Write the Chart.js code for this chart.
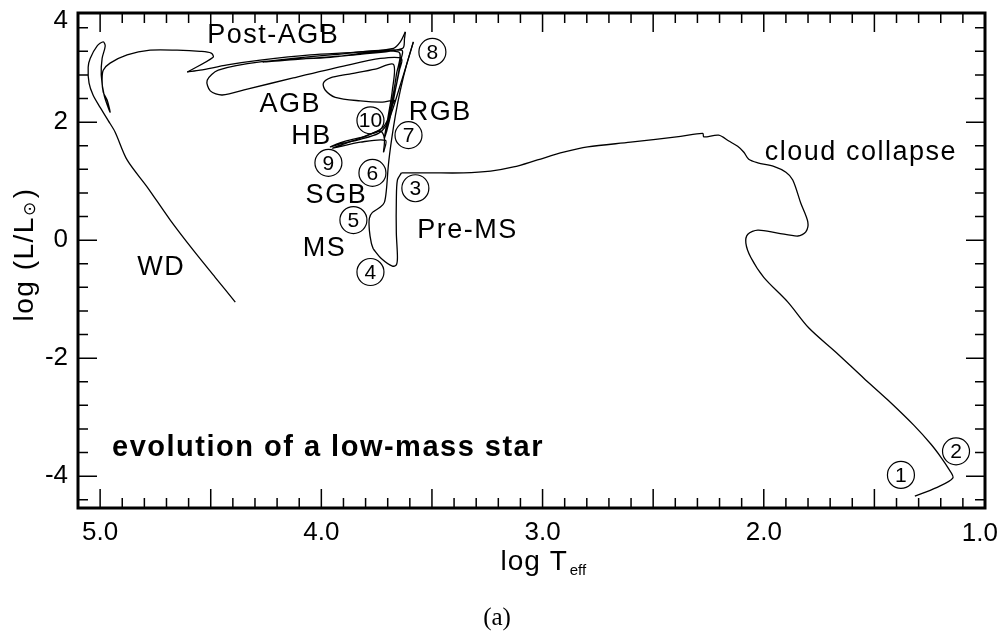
<!DOCTYPE html>
<html><head><meta charset="utf-8">
<script src="https://cdn.jsdelivr.net/npm/chart.js@4.4.1/dist/chart.umd.min.js"></script>
<style>html,body{margin:0;padding:0;background:#fff}#wrap{width:1000px;height:633px}</style>
</head><body><div id="wrap"><canvas id="c" width="1000" height="633"></canvas></div>
<script>
// ---- Evolutionary track, log Teff vs log(L/Lsun) ----
const collapseLogT = [1.317,1.222,1.145,1.167,1.199,1.244,1.321,1.439,1.548,1.674,1.796,1.891,2.000,2.059,2.081,2.072,2.027,1.937,1.846,1.810,1.801,1.833,1.869,1.900,1.955,2.027,2.068,2.090,2.118,2.158,2.204,2.271,2.276,2.376,2.602,2.796,2.905,3.023,3.131,3.235,3.357,3.507,3.638];
const collapseLogL = [-4.34,-4.20,-4.03,-3.86,-3.68,-3.46,-3.14,-2.71,-2.34,-1.90,-1.49,-1.05,-0.63,-0.29,-0.05,0.10,0.17,0.12,0.07,0.14,0.31,0.63,1.02,1.15,1.25,1.31,1.37,1.49,1.59,1.68,1.78,1.75,1.81,1.76,1.66,1.58,1.49,1.36,1.24,1.17,1.14,1.14,1.14];
const preMsLogT = [3.638,3.656,3.661,3.661,3.656,3.661,3.679,3.729,3.765];
const preMsLogL = [1.14,1.02,0.68,0.12,-0.29,-0.42,-0.44,-0.31,-0.15];
const msRgbLogT = [3.765,3.774,3.783,3.783,3.769,3.733,3.715,3.706,3.697,3.683,3.665,3.643,3.615,3.584];
const msRgbLogL = [-0.15,-0.05,0.17,0.37,0.47,0.56,0.64,0.85,1.27,1.69,2.12,2.54,2.97,3.36];
const flashHbLogT = [3.584,3.606,3.643,3.679,3.706,3.742,3.824,3.914,3.959,3.891,3.801,3.733,3.715,3.719];
const flashHbLogL = [3.36,3.08,2.63,2.20,1.95,1.81,1.71,1.63,1.58,1.68,1.76,1.85,1.73,1.49];
const agbLogT = [3.719,3.710,3.824,3.950,3.824,3.724,3.697,3.679,3.670, 3.724,3.824,3.937,3.982,3.991,3.959,3.882,3.756,3.674, 3.679,3.697,3.715, 3.692,3.670,3.647,3.638, 3.733,3.900,4.127,4.335,4.448,4.502,4.516,4.466,4.276,3.959,3.652, 3.661,3.683,3.706, 3.683,3.661,3.643,3.638, 3.959,4.262,4.095,3.824,3.633,3.624,3.620];
const agbLogL = [1.49,1.69,1.66,1.56,1.73,1.90,2.07,2.29,2.37, 2.34,2.36,2.42,2.54,2.66,2.75,2.81,2.90,2.98, 2.54,2.12,1.73, 2.03,2.46,2.88,3.08, 3.08,2.95,2.75,2.56,2.46,2.53,2.71,2.88,3.02,3.10,3.19, 2.80,2.29,1.83, 2.20,2.63,3.02,3.22, 3.14,3.02,3.07,3.15,3.25,3.42,3.53];
const postAgbLogT = [3.620,3.643,3.674,3.824,4.050,4.276,4.425,4.548,4.606];
const postAgbLogL = [3.53,3.36,3.25,3.19,3.14,3.05,2.97,2.88,2.85];
const wdLogT = [4.606,4.489,4.498,4.548,4.652,4.774,4.878,4.955,4.986,4.991,4.986,4.968,4.955,4.982,4.995,4.991,4.977,4.986,5.014,5.045,5.054,5.050,5.032,5.000,4.964,4.932,4.878,4.787,4.683,4.579,4.480,4.389];
const wdLogL = [2.85,3.10,3.17,3.20,3.22,3.22,3.14,3.00,2.88,2.71,2.51,2.37,2.17,2.46,2.80,3.08,3.29,3.36,3.29,3.08,2.93,2.66,2.46,2.25,2.03,1.83,1.36,0.90,0.34,-0.17,-0.63,-1.05];

// ---- axes ----
const xLabelTicks = [5.0,4.0,3.0,2.0];
const xEdgeLabel = 1.0;
const xMajorTicks = [5.0,4.5,4.0,3.5,3.0,2.5,2.0,1.5];
const xMinorTicks = [4.9,4.8,4.7,4.6,4.4,4.3,4.2,4.1,3.9,3.8,3.7,3.6,3.4,3.3,3.2,3.1,2.9,2.8,2.7,2.6,2.4,2.3,2.2,2.1,1.9,1.8,1.7,1.6,1.4,1.3,1.2,1.1];
const yLabelTicks = [-4,-2,0,2];
const yMajorTicks = [-4,-2,0,2];
const yMinorTicks = [-4.4,-3.6,-3.2,-2.8,-2.4,-1.6,-1.2,-0.8,-0.4,0.4,0.8,1.2,1.6,2.4,2.8,3.2,3.6];
const yTopLabel = '4';

// ---- annotations ----
const phaseNames = ['Post-AGB','AGB','HB','SGB','MS','WD','RGB','Pre-MS','cloud collapse'];
const phaseLogT = [4.217,4.14,4.045,3.932,3.986,4.724,3.462,3.339,1.561];
const phaseLogL = [3.47,2.29,1.75,0.76,-0.14,-0.47,2.17,0.17,1.49];
const stageNums = ['1','2','3','4','5','6','7','8','9','10'];
const stageLogT = [1.38,1.131,3.575,3.778,3.855,3.769,3.606,3.498,3.968,3.778];
const stageLogL = [-3.98,-3.58,0.88,-0.54,0.34,1.14,1.78,3.19,1.31,2.03];
const chartNote = 'evolution of a low-mass star';
const noteLogT = 4.946, noteLogL = -3.53;

const FONT = '"Liberation Sans", Arial, Helvetica, sans-serif';
const pts = (t,l) => t.map((v,i)=>({x:v,y:l[i]}));
const ds = (t,l) => ({data:pts(t,l), showLine:true, borderColor:'#000', borderWidth:1.3, pointRadius:0, tension:0.3, fill:false});

const overlay = {
  id:'overlay',
  afterDraw(chart){
    const {ctx, chartArea:a, scales:{x,y}} = chart;
    ctx.save();
    ctx.strokeStyle='#000'; ctx.fillStyle='#000';
    // tick marks (inward, all four sides)
    ctx.lineWidth=1.5;
    const xt = (v,len)=>{const p=x.getPixelForValue(v); ctx.beginPath(); ctx.moveTo(p,a.bottom); ctx.lineTo(p,a.bottom-len); ctx.moveTo(p,a.top); ctx.lineTo(p,a.top+len); ctx.stroke();};
    const yt = (v,len)=>{const p=y.getPixelForValue(v); ctx.beginPath(); ctx.moveTo(a.left,p); ctx.lineTo(a.left+len,p); ctx.moveTo(a.right,p); ctx.lineTo(a.right-len,p); ctx.stroke();};
    xMajorTicks.forEach(v=>xt(v,19)); xMinorTicks.forEach(v=>xt(v,10));
    yMajorTicks.forEach(v=>yt(v,19)); yMinorTicks.forEach(v=>yt(v,10));
    // frame
    ctx.lineWidth=3;
    ctx.strokeRect(a.left,a.top,a.right-a.left,a.bottom-a.top);
    // edge tick labels (kept inside the canvas)
    ctx.font='26px '+FONT; ctx.textAlign='right'; ctx.textBaseline='middle';
    ctx.fillText(yTopLabel, a.left-10, a.top+8);
    ctx.fillText(xEdgeLabel.toFixed(1), x.getPixelForValue(xEdgeLabel)+13, a.bottom+26);
    // phase labels
    ctx.letterSpacing='1.5px';
    ctx.font='27px '+FONT; ctx.textAlign='center'; ctx.textBaseline='middle';
    phaseNames.forEach((s,i)=>ctx.fillText(s, x.getPixelForValue(phaseLogT[i]), y.getPixelForValue(phaseLogL[i])));
    // note
    ctx.font='bold 29px '+FONT; ctx.textAlign='left'; ctx.letterSpacing='1.5px';
    ctx.fillText(chartNote, x.getPixelForValue(noteLogT), y.getPixelForValue(noteLogL));
    ctx.letterSpacing='0px';
    // circled stage numbers
    ctx.lineWidth=1.2; ctx.font='21px '+FONT; ctx.textAlign='center';
    stageNums.forEach((s,i)=>{const px=x.getPixelForValue(stageLogT[i]), py=y.getPixelForValue(stageLogL[i]);
      ctx.beginPath(); ctx.arc(px,py,13.5,0,Math.PI*2); ctx.stroke();
      ctx.fillText(s, px, py+1);});
    // x title: log T_eff
    ctx.letterSpacing='1px';
    ctx.textAlign='left'; ctx.textBaseline='alphabetic';
    ctx.font='28px '+FONT;
    const tx = (a.left+a.right)/2 - 31, ty = a.bottom + 62;
    ctx.fillText('log T', tx, ty);
    const w1 = ctx.measureText('log T').width;
    ctx.font='15px '+FONT; ctx.letterSpacing='0px';
    ctx.fillText('eff', tx+w1+2, ty+5);
    // y title: log (L/L_sun)
    ctx.save();
    ctx.translate(a.left-53, (a.top+a.bottom)/2 - 6);
    ctx.rotate(-Math.PI/2);
    ctx.letterSpacing='1.5px';
    const p1='log (L/L', p3=')';
    ctx.font='28px '+FONT; const wa=ctx.measureText(p1).width, wc=ctx.measureText(p3).width;
    ctx.font='17px "DejaVu Sans", sans-serif'; const wb=ctx.measureText('\u2299').width;
    let sx = -(wa+wb+wc+2)/2;
    ctx.font='28px '+FONT; ctx.textBaseline='middle'; ctx.fillText(p1, sx, 0);
    ctx.font='17px "DejaVu Sans", sans-serif'; ctx.fillText('\u2299', sx+wa, 6);
    ctx.font='28px '+FONT; ctx.fillText(p3, sx+wa+wb+2, 0);
    ctx.restore();
    // caption
    ctx.letterSpacing='0px';
    ctx.font='25px "Liberation Serif", "Times New Roman", serif'; ctx.textAlign='center'; ctx.textBaseline='middle';
    ctx.fillText('(a)', 497, 618);
    ctx.restore();
  }
};

new Chart(document.getElementById('c'), {
  type:'scatter',
  data:{datasets:[ds(collapseLogT,collapseLogL), ds(preMsLogT,preMsLogL), ds(msRgbLogT,msRgbLogL), ds(flashHbLogT,flashHbLogL), ds(agbLogT,agbLogL), ds(postAgbLogT,postAgbLogL), ds(wdLogT,wdLogL)]},
  options:{
    responsive:false, animation:false, devicePixelRatio:1,
    layout:{padding:{left:0,right:15,top:13,bottom:0}},
    plugins:{legend:{display:false}, tooltip:{enabled:false}},
    scales:{
      x:{type:'linear', reverse:true, min:1.0, max:5.1, position:'bottom',
         grid:{display:false, drawTicks:false}, border:{display:false},
         afterBuildTicks:s=>{s.ticks=xLabelTicks.map(v=>({value:v}));},
         afterFit:s=>{s.height=125; s.paddingLeft=0; s.paddingRight=0;},
         ticks:{autoSkip:false, maxRotation:0, padding:9, color:'#000', font:{family:FONT,size:26}, callback:v=>Number(v).toFixed(1)}},
      y:{type:'linear', min:-4.54, max:3.85, position:'left',
         grid:{display:false, drawTicks:false}, border:{display:false},
         afterBuildTicks:s=>{s.ticks=yLabelTicks.map(v=>({value:v}));},
         afterFit:s=>{s.width=78; s.paddingTop=0; s.paddingBottom=0;},
         ticks:{autoSkip:false, padding:10, color:'#000', font:{family:FONT,size:26}, callback:v=>String(v)}}
    }
  },
  plugins:[overlay]
});
</script></body></html>
